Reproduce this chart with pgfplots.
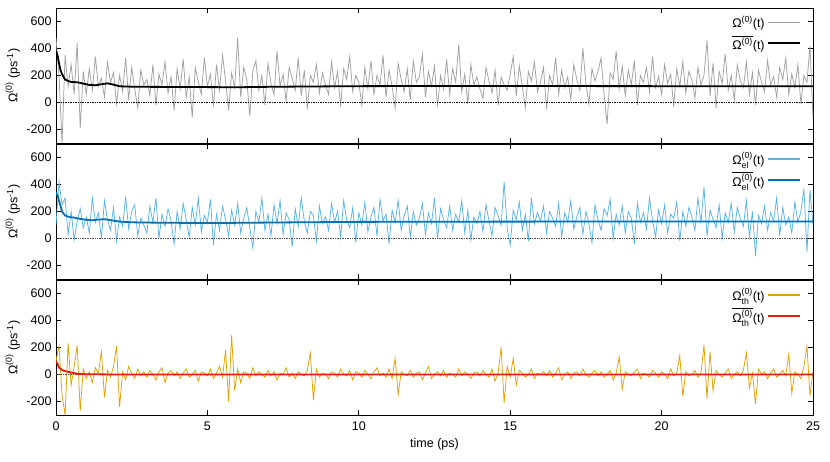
\documentclass[border=0pt]{standalone}
\usepackage{amsmath}
\usepackage{fontspec}
\setmainfont{Liberation Sans}
\usepackage{pgfplots}
\usepackage{pgfplotstable}
\pgfplotsset{compat=1.18}

\definecolor{cgrey}{RGB}{160,160,160}
\definecolor{clblue}{RGB}{86,180,233}
\definecolor{cdblue}{RGB}{0,114,178}
\definecolor{corange}{RGB}{230,159,0}
\definecolor{cred}{RGB}{229,30,16}

% instantaneous values, one every 0.1 ps from 0 to 25 ps
\pgfplotstableread[row sep=\\]{
y\\
480\\ 200\\ -300\\ 350\\ 120\\ 280\\ 60\\ 440\\ -190\\ 230\\
60\\ 250\\ 90\\ 340\\ 120\\ 180\\ 40\\ 300\\ 150\\ 220\\
-10\\ 200\\ 80\\ 330\\ 20\\ 260\\ 100\\ -40\\ 240\\ 130\\
170\\ 50\\ 280\\ -20\\ 210\\ 130\\ 300\\ 70\\ 190\\ -60\\
250\\ 100\\ 320\\ 40\\ 190\\ -110\\ 260\\ 150\\ 60\\ 330\\
120\\ 210\\ -30\\ 280\\ 90\\ 350\\ 160\\ -60\\ 220\\ 110\\
480\\ 40\\ 260\\ 170\\ -100\\ 230\\ 310\\ 90\\ 200\\ -20\\
290\\ 140\\ 60\\ 380\\ 120\\ 210\\ 10\\ 260\\ 180\\ 90\\
330\\ 50\\ 240\\ -50\\ 200\\ 150\\ 280\\ 70\\ 220\\ 130\\
60\\ 300\\ 110\\ 230\\ -30\\ 250\\ 170\\ 340\\ 80\\ 200\\
150\\ -20\\ 260\\ 100\\ 310\\ 60\\ 200\\ 130\\ 350\\ 40\\
240\\ 120\\ -40\\ 290\\ 170\\ 80\\ 250\\ 20\\ 310\\ 150\\
190\\ 360\\ 40\\ 230\\ 120\\ 270\\ -30\\ 200\\ 100\\ 320\\
60\\ 250\\ 150\\ 430\\ 80\\ 210\\ -10\\ 280\\ 130\\ 190\\
100\\ 30\\ 260\\ 160\\ 70\\ 240\\ -20\\ 190\\ 130\\ 90\\
210\\ 340\\ 50\\ 270\\ 120\\ -40\\ 230\\ 160\\ 300\\ 80\\
150\\ 260\\ -50\\ 200\\ 130\\ 330\\ 60\\ 240\\ 110\\ 190\\
20\\ 280\\ 170\\ 90\\ 400\\ 140\\ -10\\ 250\\ 160\\ 230\\
330\\ 60\\ -160\\ 220\\ 170\\ 380\\ 100\\ 270\\ 50\\ 240\\
130\\ 310\\ -20\\ 200\\ 150\\ 260\\ 80\\ 340\\ 110\\ 190\\
60\\ 280\\ 140\\ 210\\ -30\\ 250\\ 120\\ 300\\ 70\\ 230\\
170\\ 30\\ 260\\ 130\\ 200\\ 460\\ 50\\ 290\\ -40\\ 230\\
140\\ 360\\ 90\\ 200\\ 20\\ 280\\ 160\\ 110\\ 300\\ 60\\
220\\ -20\\ 240\\ 150\\ 80\\ 310\\ 130\\ 190\\ 40\\ 260\\
170\\ 330\\ 60\\ 210\\ 110\\ 280\\ -10\\ 200\\ 150\\ 420\\
-120\\
}\totdata

\pgfplotstableread[row sep=\\]{
y\\
100\\ 420\\ 250\\ 300\\ 30\\ 200\\ -10\\ 130\\ 220\\ 80\\
160\\ 40\\ 300\\ 120\\ 190\\ 0\\ 280\\ 140\\ 60\\ 230\\
-20\\ 160\\ 90\\ 310\\ 70\\ 200\\ 250\\ 20\\ 150\\ 100\\
40\\ 240\\ 120\\ 300\\ 0\\ 180\\ 90\\ 220\\ 130\\ -40\\
200\\ 70\\ 260\\ 140\\ 10\\ 230\\ 100\\ 300\\ 50\\ 170\\
120\\ 290\\ -50\\ 180\\ 60\\ 240\\ 140\\ 20\\ 210\\ 100\\
260\\ 40\\ 150\\ 230\\ 80\\ -70\\ 200\\ 120\\ 300\\ 60\\
180\\ 20\\ 250\\ 110\\ 280\\ 30\\ 190\\ 140\\ -60\\ 220\\
90\\ 300\\ 130\\ 40\\ 200\\ 170\\ -20\\ 240\\ 110\\ 160\\
60\\ 260\\ 120\\ 200\\ 10\\ 280\\ 140\\ 80\\ 230\\ -30\\
190\\ 100\\ 270\\ 50\\ 160\\ 230\\ 20\\ 290\\ 130\\ 180\\
-40\\ 210\\ 120\\ 280\\ 60\\ 170\\ 240\\ 10\\ 200\\ 100\\
150\\ 260\\ 30\\ 190\\ 110\\ 300\\ 0\\ 220\\ 140\\ 80\\
240\\ 60\\ 180\\ 120\\ 280\\ 40\\ 210\\ -10\\ 160\\ 110\\
200\\ 50\\ 250\\ 130\\ 20\\ 230\\ 170\\ 100\\ 420\\ 80\\
-50\\ 210\\ 140\\ 270\\ 60\\ 180\\ -20\\ 300\\ 110\\ 190\\
130\\ 240\\ 40\\ 200\\ 150\\ 90\\ 260\\ 10\\ 190\\ 120\\
280\\ 70\\ 160\\ 230\\ 30\\ 200\\ 110\\ -30\\ 250\\ 140\\
60\\ 220\\ 170\\ 290\\ 0\\ 180\\ 100\\ 240\\ 40\\ 200\\
150\\ -40\\ 260\\ 120\\ 190\\ 70\\ 300\\ 130\\ 10\\ 210\\
110\\ 250\\ 40\\ 180\\ 150\\ 270\\ -20\\ 200\\ 90\\ 230\\
160\\ 60\\ 300\\ 120\\ 380\\ 20\\ 210\\ 140\\ 80\\ 250\\
0\\ 190\\ 120\\ 260\\ 50\\ 230\\ 150\\ 90\\ 280\\ 10\\
200\\ -130\\ 170\\ 110\\ 240\\ 60\\ 190\\ 130\\ 300\\ 20\\
230\\ 100\\ 160\\ 40\\ 270\\ 120\\ 200\\ 370\\ -100\\ 360\\
100\\
}\eldata

\pgfplotstableread[row sep=\\]{
y\\
100\\ 210\\ -150\\ -300\\ 230\\ -80\\ 60\\ 215\\ -270\\ 40\\
-30\\ 20\\ -60\\ 50\\ 10\\ 170\\ -170\\ 30\\ -20\\ 60\\
210\\ -240\\ 20\\ -40\\ 60\\ 10\\ -30\\ 40\\ -10\\ 20\\
-20\\ 30\\ 0\\ -40\\ 20\\ 50\\ -60\\ 10\\ 30\\ -10\\
20\\ -30\\ 10\\ 40\\ -20\\ 0\\ 30\\ -50\\ 20\\ 10\\
-10\\ 40\\ -30\\ 10\\ 60\\ -20\\ 180\\ -200\\ 290\\ -120\\
40\\ -60\\ 20\\ 10\\ -30\\ 50\\ -10\\ 20\\ 0\\ -20\\
30\\ -10\\ 20\\ -40\\ 10\\ 0\\ 50\\ -20\\ 10\\ -30\\
20\\ 0\\ -10\\ 30\\ 160\\ -190\\ 40\\ -20\\ 10\\ 0\\
-30\\ 20\\ 10\\ -20\\ 40\\ 0\\ -10\\ 30\\ -40\\ 20\\
10\\ -20\\ 30\\ 0\\ -30\\ 20\\ 50\\ -10\\ 10\\ -20\\
40\\ -30\\ 120\\ -150\\ 20\\ 0\\ -10\\ 30\\ -20\\ 10\\
20\\ -40\\ 10\\ 60\\ -30\\ 0\\ 20\\ -10\\ 30\\ -20\\
10\\ 0\\ -20\\ 40\\ -10\\ 20\\ 0\\ -30\\ 10\\ 20\\
-10\\ 30\\ 0\\ -20\\ 40\\ -50\\ 10\\ 200\\ -210\\ 60\\
-20\\ 120\\ -80\\ 30\\ 10\\ -20\\ 0\\ 40\\ -30\\ 10\\
0\\ 20\\ -10\\ 30\\ -20\\ 10\\ 50\\ -40\\ 0\\ 20\\
-30\\ 10\\ 20\\ -10\\ 40\\ 0\\ -20\\ 10\\ 30\\ -10\\
20\\ -20\\ 0\\ 30\\ -40\\ 10\\ 130\\ -110\\ 20\\ 0\\
-10\\ 20\\ 40\\ -30\\ 10\\ 0\\ -20\\ 30\\ 10\\ -20\\
20\\ 0\\ -30\\ 40\\ -10\\ 10\\ 140\\ -160\\ 20\\ -10\\
0\\ 30\\ -20\\ 10\\ 220\\ -180\\ 170\\ -120\\ 30\\ 0\\
-20\\ 10\\ 40\\ -30\\ 0\\ 20\\ -10\\ 30\\ 160\\ -100\\
10\\ -220\\ 40\\ 0\\ 20\\ -30\\ 10\\ 40\\ -20\\ 0\\
30\\ -10\\ 150\\ -140\\ 20\\ 0\\ -30\\ 60\\ 210\\ -160\\
20\\
}\thdata

\newcommand{\lblfont}{\fontsize{12.5}{14}\selectfont}

\pgfplotsset{
  panel/.style={
    scale only axis,
    width=757pt, height=135pt,
    anchor=north west,
    xmin=0, xmax=25, ymin=-300, ymax=700,
    xtick={0,5,...,25},
    ytick={-200,0,200,400,600},
    yticklabels={-200,0,200,400,600},
    xtick pos=both, ytick pos=both,
    tick align=inside,
    major tick length=5pt,
    every tick/.style={black, line width=0.8pt},
    axis line style={line width=0.9pt},
    tick label style={font=\lblfont},
    yticklabel style={xshift=-1pt},
    ylabel={$\text{Ω}^{\text{(0)}}$ (ps$^{\text{-1}}$)},
    every axis y label/.style={at={(axis description cs:-0.057,0.5)}, rotate=90, anchor=center, font=\lblfont},
    legend style={draw=none, fill=none, at={(rel axis cs:0.985,0.965)}, anchor=north east,
      font=\lblfont, row sep=2pt, inner sep=1pt},
    legend cell align=right,
    legend plot pos=right,
    legend image code/.code={\draw[##1] (0pt,0pt) -- (32pt,0pt);},
  },
  noise/.style={line width=0.75pt, legend image post style={line width=1.4pt}},
}

\begin{document}
\begin{tikzpicture}
\useasboundingbox (0,0) rectangle (830pt,461pt);

\begin{axis}[panel, at={(56pt,453pt)}, xticklabels={}]
\addplot[cgrey, noise] table[x expr=\coordindex*0.1, y=y] {\totdata};
\addlegendentry{$\text{Ω}^{\text{(0)}}$(t)}
\addplot[black, densely dotted, line width=0.7pt, forget plot] coordinates {(0,0) (25,0)};
\addplot[black, line width=1.8pt] coordinates {
(0,380) (0.05,350) (0.1,290) (0.15,240) (0.2,210) (0.3,170) (0.4,160) (0.5,152)
(0.7,150) (0.9,140) (1.1,130) (1.3,128) (1.5,135) (1.7,142) (1.9,132) (2.1,120)
(2.5,117) (3,116) (4,115) (5,114) (6,113) (7,116) (8,118) (10,121) (12,122)
(15,122) (20,121) (25,120)};
\addlegendentry{$\overline{\text{Ω}^{\text{(0)}}}$(t)}
\end{axis}

\begin{axis}[panel, at={(56pt,317pt)}, xticklabels={}]
\addplot[clblue, noise] table[x expr=\coordindex*0.1, y=y] {\eldata};
\addlegendentry{$\text{Ω}^{\text{(0)}}_{\text{el}}$(t)}
\addplot[black!70, densely dotted, line width=0.7pt, forget plot] coordinates {(0,0) (25,0)};
\addplot[cdblue, line width=1.8pt] coordinates {
(0,340) (0.05,320) (0.1,280) (0.15,240) (0.2,200) (0.3,170) (0.45,158) (0.6,155)
(0.8,145) (1.0,138) (1.2,135) (1.4,140) (1.6,143) (1.8,136) (2.1,125) (2.5,120)
(3,118) (4,116) (5,114) (6,116) (7,118) (8,120) (10,123) (12,124) (15,125)
(20,126) (25,126)};
\addlegendentry{$\overline{\text{Ω}^{\text{(0)}}_{\text{el}}}$(t)}
\end{axis}

\begin{axis}[panel, at={(56pt,181pt)}, xticklabels={0,5,10,15,20,25},
  xticklabel style={yshift=-3pt},
  xlabel={time (ps)},
  every axis x label/.style={at={(axis description cs:0.5,-0.215)}, anchor=center, font=\lblfont}]
\addplot[corange, noise] table[x expr=\coordindex*0.1, y=y] {\thdata};
\addlegendentry{$\text{Ω}^{\text{(0)}}_{\text{th}}$(t)}
\addplot[black!70, densely dotted, line width=0.7pt, forget plot] coordinates {(0,0) (25,0)};
\addplot[cred, line width=1.8pt] coordinates {
(0,100) (0.05,80) (0.1,50) (0.2,35) (0.3,25) (0.5,15) (0.7,5) (1,2) (2,0) (25,0)};
\addlegendentry{$\overline{\text{Ω}^{\text{(0)}}_{\text{th}}}$(t)}
\end{axis}
\end{tikzpicture}
\end{document}
